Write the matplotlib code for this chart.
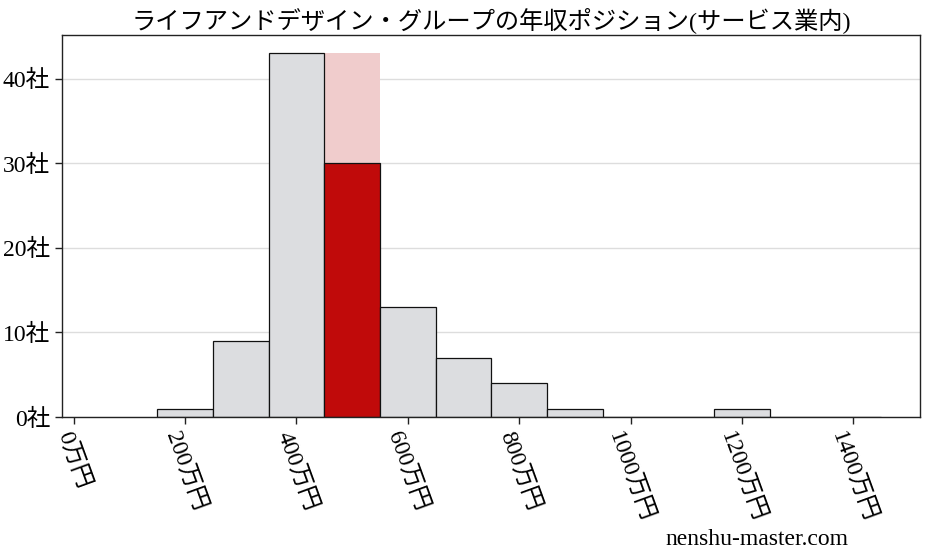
import matplotlib
matplotlib.use("Agg")
import matplotlib.pyplot as plt

plt.rcParams['font.family'] = ['Liberation Serif', 'Noto Sans CJK JP', 'DejaVu Sans']

# data (万円, 社数)
bin_centers = [200, 300, 400, 500, 600, 700, 800, 900, 1000, 1100, 1200, 1300, 1400]
counts = [1, 9, 43, 30, 13, 7, 4, 1, 0, 0, 1, 0, 0]
highlight_center = 500
highlight_bg = 43
xticks = [0, 200, 400, 600, 800, 1000, 1200, 1400]
xtick_labels = [f"{v}万円" for v in xticks]
yticks = [0, 10, 20, 30, 40]
ytick_labels = [f"{v}社" for v in yticks]
title = "ライフアンドデザイン・グループの年収ポジション(サービス業内)"

gray = '#dcdde0'
red = '#c00a0a'
pink = '#f0cccc'

fig = plt.figure(figsize=(9.27, 5.57), dpi=100)
ax = fig.add_axes([0.0669, 0.2513, 0.9256, 0.6859])

ax.grid(axis='y', color='#dddddd', linewidth=1, zorder=0)
ax.set_axisbelow(True)

# pink background for highlighted bin
ax.bar([highlight_center], [highlight_bg], width=100, color=pink, zorder=1)

colors = [red if c == highlight_center else gray for c in bin_centers]
ax.bar(bin_centers, counts, width=100, color=colors, edgecolor='#111111',
       linewidth=0.9, zorder=2)

ax.set_xlim(-21, 1520)
ax.set_ylim(0, 43 * 1.05)
ax.set_xticks(xticks)
ax.set_xticklabels(xtick_labels, rotation=-70, fontsize=17)
ax.set_yticks(yticks)
ax.set_yticklabels(ytick_labels, fontsize=17)
ax.tick_params(axis='both', direction='out', length=5, width=1, color='#222222')
for s in ax.spines.values():
    s.set_color('#222222')
    s.set_linewidth(1)

ax.set_title(title, fontsize=17.5, pad=5)
fig.text(0.915, 0.022, "nenshu-master.com", ha='right', va='baseline', fontsize=17)

fig.savefig("out.png", dpi=100)
